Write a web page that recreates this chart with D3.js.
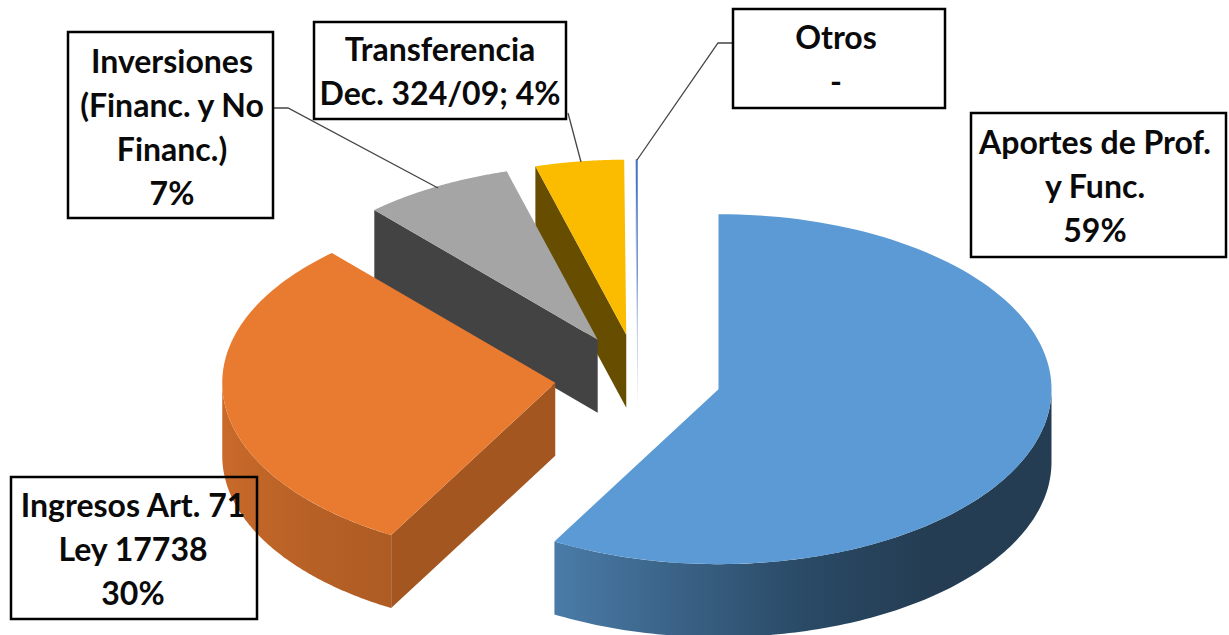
<!DOCTYPE html>
<html lang="es">
<head>
    <meta charset="UTF-8">
    <title>Ingresos</title>
    <script src="https://d3js.org/d3.v7.min.js"></script>
</head>
<style>
    html,body {
        margin: 0;
        padding: 0;
        background: #fff;
    }
    svg { display: block; }
    text {
        font-family: Lato, "Open Sans", sans-serif;
        font-weight: 700;
        font-size: 32px;
        fill: #0a0a0a;
        text-anchor: middle;
    }
</style>
<body>
    <div id="svg"></div>
</body>
<script>
    // data
    const categories = ['Aportes de Prof. y Func.', 'Ingresos Art. 71 Ley 17738', 'Inversiones (Financ. y No Financ.)', 'Transferencia Dec. 324/09', 'Otros'];
    const values = [58.2, 30.1, 7.3, 4.3, 0.1];
    const labelLines = [
        ['Aportes de Prof.', 'y Func.', '59%'],
        ['Ingresos Art. 71', 'Ley 17738', '30%'],
        ['Inversiones', '(Financ. y No', 'Financ.)', '7%'],
        ['Transferencia', 'Dec. 324/09; 4%'],
        ['Otros', '-']
    ];

    const width = 1229;
    const height = 635;

    // pie geometry
    const cx = 638, cy = 378, rx = 333, ry = 175;
    const depth = 73;
    const explode = 0.25;

    // top face, wall colours per slice
    const topColors = ['#5b9ad5', '#e97b31', '#a5a5a5', '#fbbc00', '#4472c4'];
    const cutColors = ['#2f5272', '#a3561f', '#434343', '#664d00', '#b8c6de'];
    const wallStops = [
        ['#4a7ba8', '#3a6286', '#2a4a66', '#243d53', '#243d53'],
        ['#c96a2a', '#bf6528', '#b86126', '#b25e25', '#ae5c24'],
        ['#636363', '#636363'],
        ['#997300', '#997300'],
        ['#b8c6de', '#b8c6de']
    ];

    // label boxes: x0, y0, x1, y1, text centre, first line centre
    const boxes = [
        [971, 113, 1226, 257, 1095, 143],
        [11, 477, 257, 619, 133, 506],
        [68, 32, 273, 218, 172, 62],
        [314, 22, 566, 119, 440, 50],
        [733, 9, 945, 108, 836, 38]
    ];
    const lineStep = 44;

    // leader lines
    const leaders = [
        [[273, 108], [288, 108], [438, 188]],
        [[568, 113], [581, 162]],
        [[733, 43], [718, 43], [637, 160]]
    ];

    const svg = d3.select('#svg').append('svg')
        .attr('width', width)
        .attr('height', height);
    const defs = svg.append('defs');

    const x = d3.scaleLinear().domain([-1, 1]).range([cx - rx, cx + rx]);
    const y = d3.scaleLinear().domain([-1, 1]).range([cy - ry, cy + ry]);

    const pie = d3.pie().sort(null);
    const slices = pie(values);

    const line = d3.line().x(d => d[0]).y(d => d[1]);

    // slice centre after exploding along the middle angle
    function centre(s) {
        const mid = (s.startAngle + s.endAngle) / 2;
        return [explode * Math.sin(mid), -explode * Math.cos(mid)];
    }
    function rim(s, a, dz) {
        const c = centre(s);
        return [x(c[0] + Math.sin(a)), y(c[1] - Math.cos(a)) + (dz || 0)];
    }
    function apex(s, dz) {
        const c = centre(s);
        return [x(c[0]), y(c[1]) + (dz || 0)];
    }
    function arcPoints(s, a0, a1, dz) {
        return d3.range(0, 121).map(i => rim(s, a0 + (a1 - a0) * i / 120, dz));
    }

    // back slices first, the big blue one goes last
    const order = [4, 3, 2, 1, 0];
    order.forEach(i => {
        const s = slices[i];
        const g = svg.append('g');

        // cut face at the start angle, only seen on the left half
        if (s.startAngle > Math.PI) {
            g.append('path')
                .attr('fill', cutColors[i])
                .attr('d', line([apex(s), rim(s, s.startAngle), rim(s, s.startAngle, depth), apex(s, depth)]) + 'Z');
        }

        // outer wall, front half only
        const a0 = Math.max(s.startAngle, Math.PI / 2);
        const a1 = Math.min(s.endAngle, Math.PI * 1.5);
        if (a0 < a1) {
            const top = arcPoints(s, a0, a1, 0);
            const bottom = arcPoints(s, a0, a1, depth).reverse();
            const xs = d3.extent(top, d => d[0]);
            const grad = defs.append('linearGradient')
                .attr('id', 'wall' + i)
                .attr('gradientUnits', 'userSpaceOnUse')
                .attr('x1', xs[0]).attr('x2', xs[1]).attr('y1', 0).attr('y2', 0);
            grad.selectAll('stop').data(wallStops[i]).enter().append('stop')
                .attr('offset', (d, k) => k / (wallStops[i].length - 1))
                .attr('stop-color', d => d);
            g.append('path')
                .attr('fill', 'url(#wall' + i + ')')
                .attr('d', line(top.concat(bottom)) + 'Z');
        }

        // top face
        g.append('path')
            .attr('fill', topColors[i])
            .attr('d', line([apex(s)].concat(arcPoints(s, s.startAngle, s.endAngle, 0))) + 'Z');
    });

    // leader lines
    svg.selectAll('path.leader').data(leaders).enter().append('path')
        .attr('class', 'leader')
        .attr('fill', 'none')
        .attr('stroke', '#444')
        .attr('stroke-width', 1.3)
        .attr('d', d => line(d));

    // labels
    const label = svg.selectAll('g.label').data(boxes).enter().append('g')
        .attr('class', 'label');
    label.append('rect')
        .attr('x', d => d[0])
        .attr('y', d => d[1])
        .attr('width', d => d[2] - d[0])
        .attr('height', d => d[3] - d[1])
        .attr('fill', 'none')
        .attr('stroke', '#000')
        .attr('stroke-width', 2.5);
    label.each(function (d, i) {
        d3.select(this).selectAll('text').data(labelLines[i]).enter().append('text')
            .attr('x', d[4])
            .attr('y', (t, k) => d[5] + k * lineStep)
            .attr('dy', '0.35em')
            .text(t => t);
    });
</script>
</html>
